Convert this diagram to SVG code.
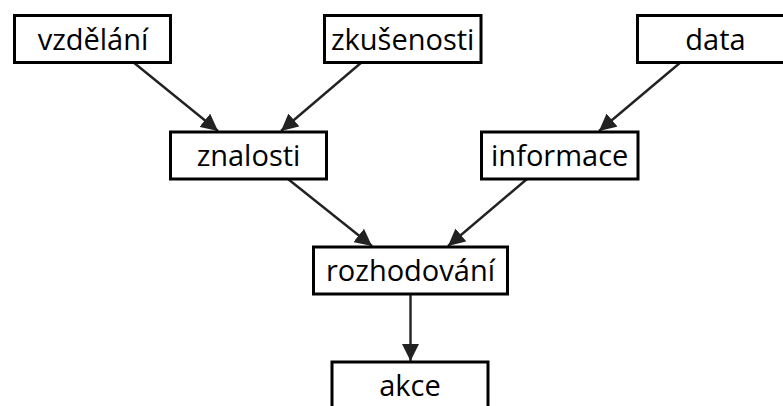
<svg xmlns="http://www.w3.org/2000/svg" width="783" height="406" viewBox="0 0 783 406">
<style>
.box{fill:#fff;stroke:#000;stroke-width:3}
.lbl{font-family:"Open Sans","DejaVu Sans",sans-serif;font-size:29px;fill:#000;text-anchor:middle}
.edge{stroke:#222;stroke-width:2.4;fill:none;marker-end:url(#ah)}
</style>
<defs>
<marker id="ah" viewBox="0 0 10 10" refX="10" refY="5" markerWidth="17" markerHeight="17" markerUnits="userSpaceOnUse" orient="auto">
<path d="M0,0 L10,5 L0,10 Z" fill="#222"/>
</marker>
</defs>
<rect width="783" height="406" fill="#fff"/>
<g id="connectors">
<line class="edge" x1="133" y1="62" x2="218" y2="131"/>
<line class="edge" x1="362" y1="62" x2="281" y2="131"/>
<line class="edge" x1="681" y1="62" x2="599" y2="131"/>
<line class="edge" x1="288" y1="179" x2="372" y2="246"/>
<line class="edge" x1="527" y1="179" x2="448" y2="246"/>
<line class="edge" x1="410.5" y1="294" x2="410.5" y2="361"/>
</g>
<g id="vzdelani"><rect class="box" x="14.5" y="15.5" width="156" height="47"/><text class="lbl" x="93" y="49.5">vzdělání</text></g>
<g id="zkusenosti"><rect class="box" x="324.5" y="15.5" width="156.5" height="47"/><text class="lbl" x="402.7" y="49.5">zkušenosti</text></g>
<g id="data"><rect class="box" x="637.5" y="15.5" width="157" height="47"/><text class="lbl" x="715.5" y="49.5">data</text></g>
<g id="znalosti"><rect class="box" x="170.5" y="132" width="156" height="47"/><text class="lbl" x="248.5" y="166">znalosti</text></g>
<g id="informace"><rect class="box" x="481.5" y="132" width="156.5" height="47"/><text class="lbl" x="559.7" y="166">informace</text></g>
<g id="rozhodovani"><rect class="box" x="313.5" y="247" width="194" height="47"/><text class="lbl" x="410.5" y="281">rozhodování</text></g>
<g id="akce"><rect class="box" x="332" y="362" width="156" height="60"/><text class="lbl" x="410" y="396">akce</text></g>
</svg>
